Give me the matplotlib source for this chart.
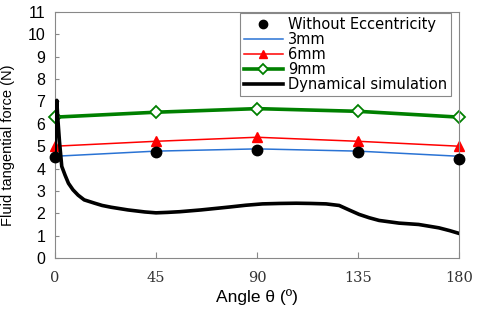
import numpy as np
import matplotlib
matplotlib.use("Agg")
import matplotlib.pyplot as plt

# angles of the static cases
angles = [0, 45, 90, 135, 180]
no_ecc = [4.5, 4.75, 4.85, 4.72, 4.45]
ecc_3mm = [4.55, 4.78, 4.88, 4.78, 4.55]
ecc_6mm = [5.0, 5.22, 5.4, 5.22, 5.0]
ecc_9mm = [6.3, 6.52, 6.68, 6.56, 6.3]

# dynamical simulation
dyn_angle = [0, 0.4, 0.8, 1.2, 2.0, 3.0, 4.5, 6.0, 8.0, 10.3, 13.0, 17.7, 21.0, 25.0,
             32.5, 40.0, 45.0, 50.0, 55.5, 65.0, 77.7, 85.0, 92.4, 100.0, 107.5,
             114.0, 120.8, 126.6, 131.0, 135.5, 140.0, 144.4, 153.3, 162.0,
             171.0, 176.0, 180.0]
dyn_force = [4.5, 6.0, 7.05, 6.3, 5.2, 4.1, 3.7, 3.34, 3.05, 2.81, 2.6, 2.45, 2.35, 2.27,
             2.15, 2.06, 2.02, 2.04, 2.07, 2.15, 2.28, 2.36, 2.42, 2.44, 2.45,
             2.44, 2.42, 2.35, 2.15, 1.95, 1.8, 1.68, 1.56, 1.5,
             1.35, 1.22, 1.1]

fig = plt.figure(figsize=(4.8, 3.1), dpi=100)
ax = fig.add_axes([0.1146, 0.1677, 0.8417, 0.7935])

ax.plot(angles, ecc_3mm, color='#2a73d4', lw=1.1, label='3mm')
ax.plot(angles, ecc_6mm, color='#ff0000', lw=1.1, marker='^', ms=7.5,
        label='6mm', clip_on=False)
ax.plot(angles, ecc_9mm, color='#008000', lw=2.6, marker='D', ms=6.5, mfc='white',
        mew=1.3, label='9mm', clip_on=False)
ax.plot(angles, no_ecc, 'o', color='black', ms=7.5, label='Without Eccentricity',
        clip_on=False, zorder=4)
ax.plot(dyn_angle, dyn_force, color='black', lw=2.6, label='Dynamical simulation',
        zorder=5)

ax.set_xlim(0, 180)
ax.set_ylim(0, 11)
ax.set_xticks(angles)
ax.set_yticks(range(12))
ax.tick_params(axis='x', direction='in', length=4, color='#888888', pad=9)
ax.tick_params(axis='y', direction='in', length=3, color='#888888', pad=7)
for lab in ax.get_xticklabels():
    lab.set_family('serif')
    lab.set_fontsize(10.5)
    lab.set_color('#333333')
for lab in ax.get_yticklabels():
    lab.set_family('Liberation Sans')
    lab.set_fontsize(11.5)
for s in ax.spines.values():
    s.set_color('#888888')

ax.set_xlabel('Angle θ (º)', family='Liberation Sans', fontsize=12.5, labelpad=3)
ax.set_ylabel('Fluid tangential force (N)', family='Liberation Sans', fontsize=10.5,
              labelpad=6)
ax.yaxis.set_label_coords(-0.098, 0.46)

h, l = ax.get_legend_handles_labels()
order = [3, 0, 1, 2, 4]
leg = ax.legend([h[i] for i in order], [l[i] for i in order],
                loc='upper left', bbox_to_anchor=(0.454, 1.0),
                prop={'family': 'DejaVu Sans', 'size': 10.5},
                handlelength=2.7, handletextpad=0.35, labelspacing=0.0,
                borderpad=0.25, borderaxespad=0.1, fancybox=False,
                framealpha=1, edgecolor='#888888', markerscale=0.8)
leg.get_frame().set_linewidth(0.8)

fig.savefig('out.png', dpi=100)
